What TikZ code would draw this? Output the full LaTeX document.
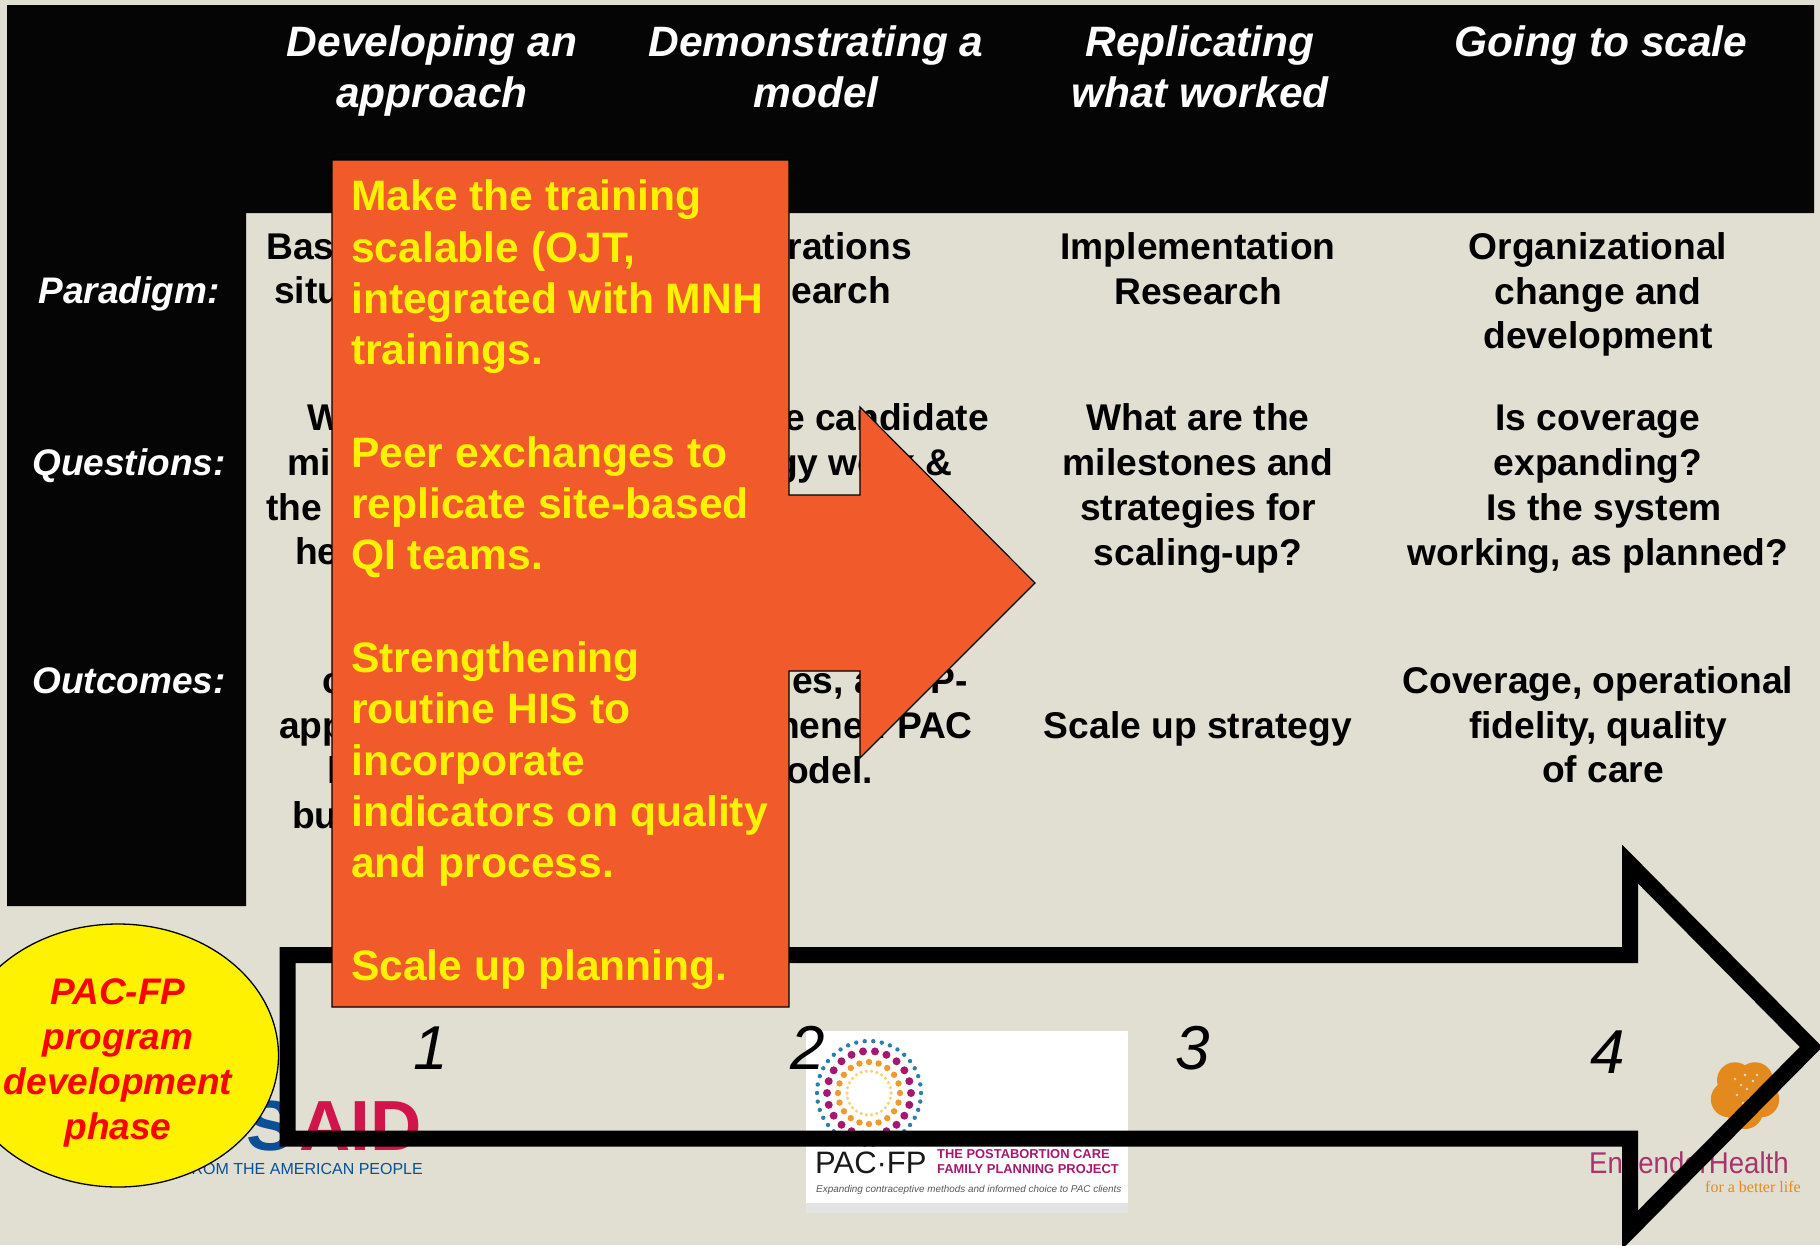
\documentclass[tikz,border=0pt]{standalone}
\usepackage{fontspec}
\setmainfont{Liberation Sans}
\newfontfamily\serifish{Liberation Serif}
\definecolor{bgc}{HTML}{E1DFD2}
\definecolor{orng}{HTML}{F15A2B}
\definecolor{usblue}{HTML}{0B4F96}
\definecolor{usred}{HTML}{D2144C}
\definecolor{pacmag}{HTML}{A6186F}
\definecolor{pacblue}{HTML}{2A7FB0}
\definecolor{pacorg}{HTML}{EE9A2E}
\definecolor{pacyel}{HTML}{F7D27A}
\definecolor{engmag}{HTML}{A8346E}
\definecolor{engorg}{HTML}{E38A1E}
\newcommand{\strt}{\rule{0pt}{1em}}
\tikzset{
  head/.style={inner sep=0,anchor=north,align=center,text=white,font=\fontsize{42.5}{51}\selectfont\bfseries\itshape},
  rowlab/.style={inner sep=0,anchor=north,align=center,text=white,font=\fontsize{37}{44.7}\selectfont\bfseries\itshape},
  body/.style={inner sep=0,anchor=north,align=center,text=black,font=\fontsize{37.2}{44.7}\selectfont\bfseries},
  fragl/.style={inner sep=0,anchor=north west,text=black,font=\fontsize{37.2}{44.7}\selectfont\bfseries},
  fragr/.style={inner sep=0,anchor=north east,text=black,font=\fontsize{37.2}{44.7}\selectfont\bfseries},
  num/.style={inner sep=0,anchor=center,text=black,font=\fontsize{62}{62}\selectfont\itshape},
}
\begin{document}
\begin{tikzpicture}[x=1pt,y=-1pt]
\useasboundingbox (0,0) rectangle (1820,1245);
\clip (0,0) rectangle (1820,1245);
\fill[bgc] (0,0) rectangle (1820,1245);
% black header and side column
\fill[black!98] (7,5) -- (1814,5) -- (1814,213) -- (246,213) -- (246,906) -- (7,906) -- cycle;
% headers
\node[head] (h1) at (432,13.5) {\strt Developing an\\approach};
\node[head] (h2) at (816,13.5) {\strt Demonstrating a\\model};
\node[head] (h3) at (1200,13.5) {\strt Replicating\\what worked};
\node[head] (h4) at (1601,13.5) {\strt Going to scale};
% row labels
\node[rowlab] (r1) at (129,266) {\strt Paradigm:};
\node[rowlab] (r2) at (129,438) {\strt Questions:};
\node[rowlab] (r3) at (129,656) {\strt Outcomes:};
% body column 3 and 4
\node[body] (c31) at (1198,222) {\strt Implementation\\Research};
\node[body] (c41) at (1598,222) {\strt Organizational\\change and\\development};
\node[body] (c32) at (1198,393.5) {\strt What are the\\milestones and\\strategies for\\scaling-up?};
\node[body] (c42) at (1598,393.5) {\strt Is coverage\\expanding?\\\hspace*{12pt}Is the system\\working, as planned?};
\node[body] (c33) at (1198,701) {\strt Scale up strategy};
\node[body] (c43) at (1598,656) {\strt Coverage, operational\\fidelity, quality\\\hspace*{10pt}of care};
% fragments left of the callout
\node[fragl] (a1) at (266,222) {\strt Bas};
\node[fragl] (a2) at (274,266) {\strt situ};
\node[fragl] (a3) at (307,393.5) {\strt W};
\node[fragl] (a4) at (287,438) {\strt mi};
\node[fragl] (a5) at (266,483) {\strt the};
\node[fragl] (a6) at (295,527) {\strt he};
\node[fragl] (a7) at (322,656) {\strt c};
\node[fragl] (a8) at (279,701) {\strt app};
\node[fragl] (a9) at (327,746) {\strt l};
\node[fragl] (a10) at (292,791) {\strt bu};
% fragments right of the callout
\node[fragr] (b1) at (912,222) {\strt rations};
\node[fragr] (b2) at (891,266) {\strt earch};
\node[fragr] (b3) at (989,393.5) {\strt e candidate};
\node[fragr] (b4) at (953,438) {\strt gy work \&};
\node[fragr] (b5) at (968,656) {\strt es, an FP-};
\node[fragr] (b6) at (973,701) {\strt hened PAC};
\node[fragr] (b7) at (873,746) {\strt odel.};
% USAID logo
\node[inner sep=0,anchor=base east,font=\fontsize{71}{71}\selectfont\bfseries] (usaid) at (422,1150) {\textcolor{usblue}{S}\kern 6pt\textcolor{usred}{AID}};
\node[inner sep=0,anchor=base east,text=usblue,font=\fontsize{16}{20}\selectfont] (ustag) at (423,1174) {FROM THE AMERICAN PEOPLE};
% PAC-FP logo
\fill[black!11] (806,1203) rectangle (1128,1213);
\fill[white] (806,1031) rectangle (1128,1203);
\foreach \i in {1,...,38} {\fill[pacblue] (869,1093) ++({\i*360/38}:52) circle (2.2);}
\foreach \i in {1,...,22} {\fill[pacmag] (869,1093) ++({\i*360/22}:42) circle (4);}
\foreach \i in {1,...,20} {\fill[pacorg] (869,1093) ++({\i*360/20}:31) circle (3.2);}
\foreach \i in {1,...,26} {\fill[pacyel] (869,1093) ++({\i*360/26}:22) circle (1.8);}
\node[inner sep=0,anchor=base west,text=black!90,font=\fontsize{31}{31}\selectfont] (pacname) at (815,1173) {PAC·FP};
\node[inner sep=0,anchor=base west,text=pacmag,font=\fontsize{12.9}{15.5}\selectfont\bfseries] (pacsub) at (937,1158) {THE POSTABORTION CARE};
\node[inner sep=0,anchor=base west,text=pacmag,font=\fontsize{12.9}{15.5}\selectfont\bfseries] (pacsubb) at (937,1173) {FAMILY PLANNING PROJECT};
\node[inner sep=0,anchor=base west,text=black!65,font=\fontsize{9.9}{10}\selectfont\itshape] (pactag) at (816,1192) {Expanding contraceptive methods and informed choice to PAC clients};
% EngenderHealth logo
\foreach \a in {90,162,234,306,18} {\fill[engorg] (1745,1094) ++(\a:17) circle (18);}
\foreach \i/\j in {0/0,6/-8,-6/-4,-10/6,2/10,-4/14,8/6,10/-14,-2/-14,-12/-10} {\fill[bgc] (1747+\i,1089+\j) circle (1.4);}
\node[inner sep=0,anchor=base west,text=engmag,font=\fontsize{30}{30}\selectfont] (eng) at (1589,1173) {\scalebox{.92}[1]{EngenderHealth}};
\node[inner sep=0,anchor=base west,text=engorg,font=\fontsize{16}{16}\selectfont\serifish] (engtag) at (1705,1192) {for a better life};
% big outlined arrow
\draw[black,line width=16pt,line join=miter,miter limit=10]
  (287.5,955) -- (1630,955) -- (1630,864) -- (1811,1047) -- (1630,1230) -- (1630,1138.5) -- (287.5,1138.5) -- cycle;
% numbers
\node[num] (n1) at (431,1048) {1};
\node[num] (n2) at (808,1048) {2};
\node[num] (n3) at (1193,1048) {3};
\node[num] (n4) at (1608,1052) {4};
% phase ellipse
\draw[black,line width=1.3pt,fill=yellow] (118,1055.5) ellipse (160.5 and 131.5);
\node[inner sep=0,anchor=north,align=center,text=red,font=\fontsize{37}{45}\selectfont\bfseries\itshape] (phase) at (118,967) {\strt PAC-FP\\program\\development\\phase};
% callout
\draw[black,line width=1.2pt,fill=orng,line join=miter]
  (332,160) -- (789,160) -- (789,495) -- (860,495) -- (860,407) -- (1035,583) -- (860,758) -- (860,671) -- (789,671) -- (789,1007) -- (332,1007) -- cycle;
\node[inner sep=0,anchor=north west,align=left,text=yellow,font=\fontsize{42.6}{51.3}\selectfont\bfseries] (calltext) at (351,168)
 {\strt Make the training\\scalable (OJT,\\integrated with MNH\\trainings.\\[51.3pt]Peer exchanges to\\replicate site-based\\QI teams.\\[51.3pt]Strengthening\\routine HIS to\\incorporate\\indicators on quality\\and process.\\[51.3pt]Scale up planning.};
\end{tikzpicture}
\end{document}
